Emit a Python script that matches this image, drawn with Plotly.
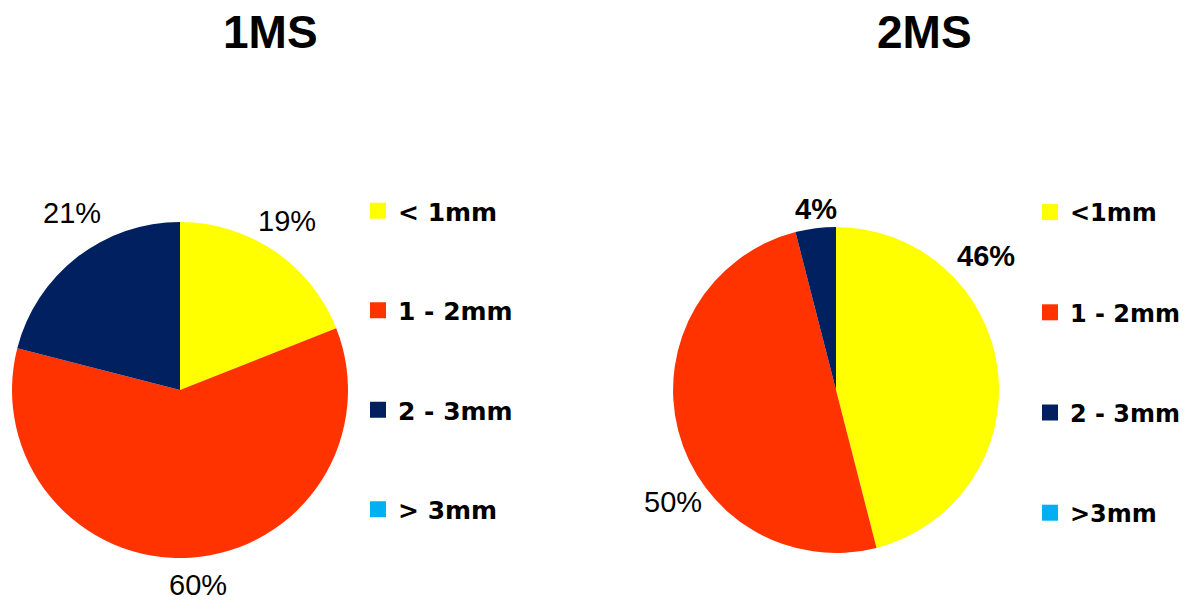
import plotly.graph_objects as go

W, H = 1191, 603

# ---- data ----
categories_1 = ["< 1mm", "1 - 2mm", "2 - 3mm", "> 3mm"]
categories_2 = ["<1mm", "1 - 2mm", "2 - 3mm", ">3mm"]
values_1ms = [19, 60, 21, 0]
values_2ms = [46, 50, 4, 0]
titles = ["1MS", "2MS"]

# ---- styles ----
colors = ["#FFFF00", "#FF3300", "#002060", "#00B0F0"]
# label centre positions (pixels) for each slice's percent label
label_pos_1 = [(287, 219), (198, 583), (72, 211), None]
label_pos_2 = [(986, 254), (673, 500), (816, 207), None]
label_bold_1 = [False, False, False, False]
label_bold_2 = [True, False, True, False]
title_pos = [(270, 32), (924, 32)]


def px(x, y):
    return x / W, 1 - y / H


fig = go.Figure()

# pie domains (pixels): centre and radius
pies = [
    (values_1ms, 180, 390, 168),
    (values_2ms, 836, 390, 163),
]
for vals, cx, cy, r in pies:
    x0, y1 = px(cx - r, cy - r)
    x1, y0 = px(cx + r, cy + r)
    fig.add_trace(go.Pie(
        values=vals,
        labels=categories_1,
        sort=False,
        direction="clockwise",
        rotation=0,
        marker=dict(colors=colors, line=dict(width=0)),
        textinfo="none",
        hoverinfo="label+percent",
        showlegend=False,
        domain=dict(x=[x0, x1], y=[y0, y1]),
    ))

# legend entries (one group per category so they can be spaced)
for legname, cats in [("legend", categories_1), ("legend2", categories_2)]:
    for i, (c, col) in enumerate(zip(cats, colors)):
        fig.add_trace(go.Scatter(
            x=[None], y=[None], mode="markers",
            marker=dict(symbol="square", size=16, color=col),
            name=f"<b>{c}</b>", legendgroup=f"{legname}_{i}", legend=legname,
            showlegend=True, hoverinfo="skip",
        ))

annotations = []
for vals, poss, bolds in [(values_1ms, label_pos_1, label_bold_1),
                          (values_2ms, label_pos_2, label_bold_2)]:
    for v, p, b in zip(vals, poss, bolds):
        if p is None or v == 0:
            continue
        ax, ay = px(p[0], p[1] + 2)
        txt = f"{v}%"
        if b:
            txt = f"<b>{txt}</b>"
        annotations.append(dict(
            x=ax, y=ay, xref="paper", yref="paper", text=txt, showarrow=False,
            xanchor="center", yanchor="middle",
            font=dict(family="Liberation Sans, Arial", size=29, color="#000000"),
        ))
for t, (tx, ty) in zip(titles, title_pos):
    ax, ay = px(tx, ty)
    annotations.append(dict(
        x=ax, y=ay, xref="paper", yref="paper", text=f"<b>{t}</b>", showarrow=False,
        xanchor="center", yanchor="middle",
        font=dict(family="Liberation Sans, Arial", size=46, color="#000000"),
    ))

legend_font1 = dict(family="DejaVu Sans", size=25, color="#000000")
legend_font2 = dict(family="DejaVu Sans", size=24, color="#000000")
lx1, ly1 = px(358, 188)
lx2, ly2 = px(1030, 190)
fig.update_layout(
    width=W, height=H,
    margin=dict(l=0, r=0, t=0, b=0),
    paper_bgcolor="white", plot_bgcolor="white",
    xaxis=dict(visible=False), yaxis=dict(visible=False),
    annotations=annotations,
    legend=dict(x=lx1, y=ly1, xanchor="left", yanchor="top",
                font=legend_font1, tracegroupgap=64, bgcolor="rgba(0,0,0,0)"),
    legend2=dict(x=lx2, y=ly2, xanchor="left", yanchor="top",
                 font=legend_font2, tracegroupgap=66, bgcolor="rgba(0,0,0,0)"),
)

fig.write_html("out.html")
